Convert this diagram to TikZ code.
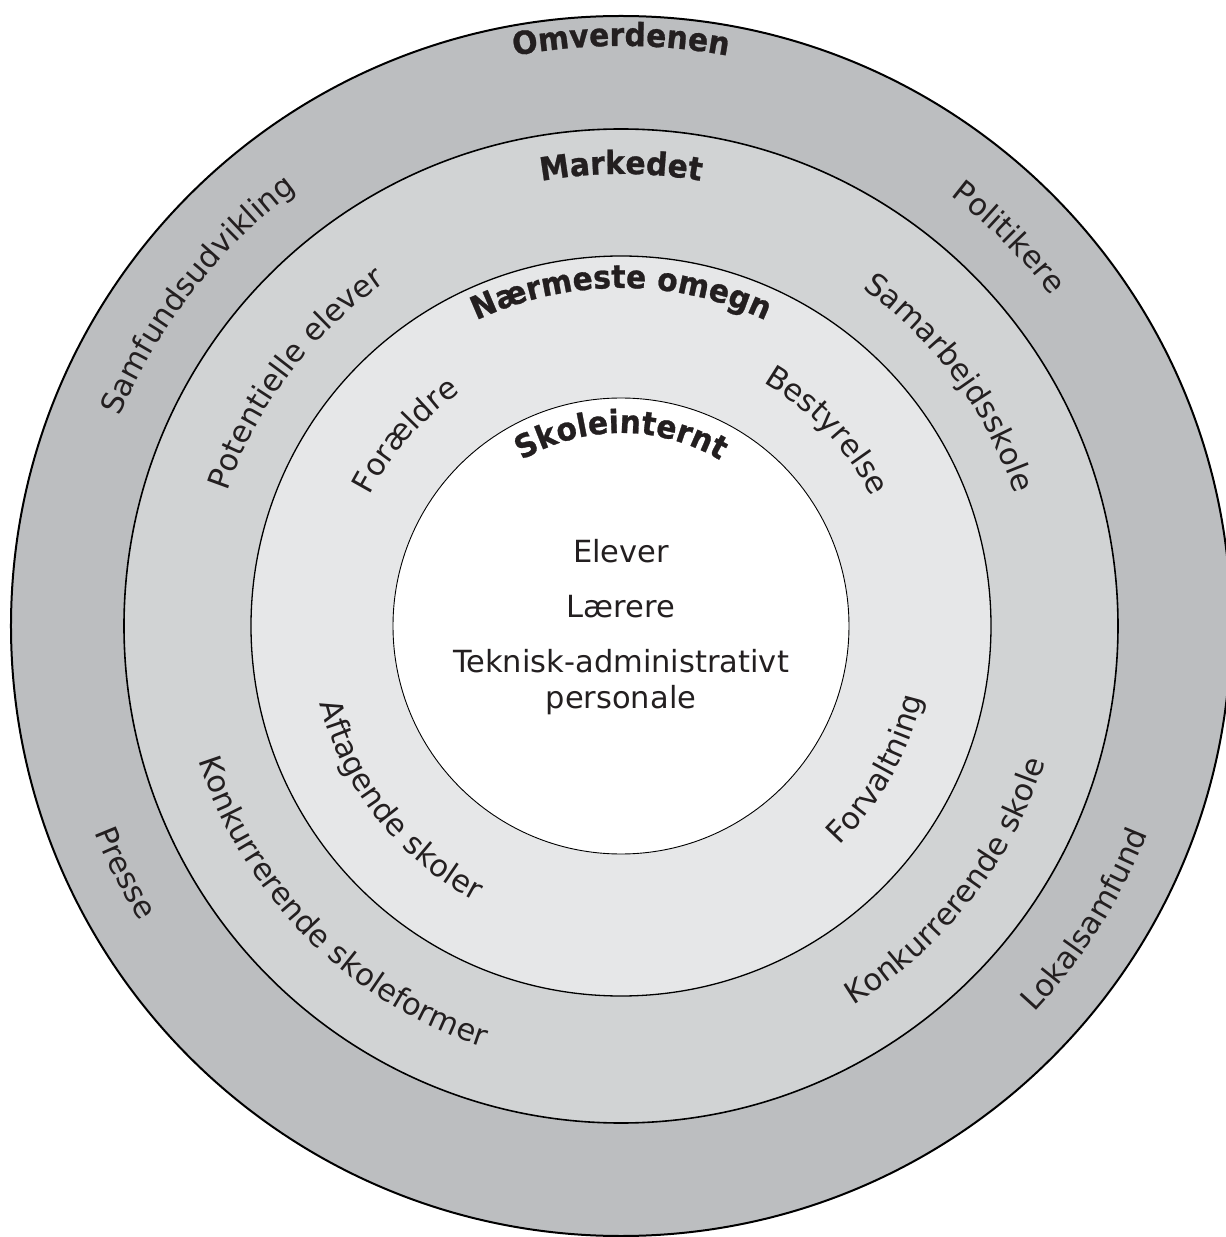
\documentclass[tikz,border=0pt]{standalone}
\usepackage{fontspec}
\setmainfont{DejaVu Sans}
\newfontfamily\headfam{DejaVu Sans}[FakeStretch=0.93,FakeBold=0.8]
\usetikzlibrary{decorations.text}

\definecolor{ringA}{HTML}{BCBEC0}
\definecolor{ringB}{HTML}{D1D3D4}
\definecolor{ringC}{HTML}{E6E7E8}
\definecolor{ink}{HTML}{231F20}

\newcommand\labfont{\fontsize{30.5}{36}\selectfont}
\newcommand\headfont{\headfam\bfseries\fontsize{32}{38}\selectfont}

% text on an arc around the centre: upper half runs clockwise (letters face outward),
% lower half runs counter-clockwise (letters face inward)
% #1 font, #2 text, #3 baseline radius (pt), #4 middle angle
\newcommand\ArcTop[4]{%
  \path[decorate,decoration={text along path,text align=center,text color=ink,text={|#1|#2}}]
    ({#4+60}:#3pt) arc[start angle={#4+60},end angle={#4-60},radius=#3pt];}
\newcommand\ArcBottom[4]{%
  \path[decorate,decoration={text along path,text align=center,text color=ink,text={|#1|#2}}]
    ({#4-60}:#3pt) arc[start angle={#4-60},end angle={#4+60},radius=#3pt];}

\tikzset{
  ring/.style={draw=black},
  ctr/.style={text=ink,font=\labfont,inner sep=0pt,anchor=base}
}

\begin{document}
\begin{tikzpicture}
\useasboundingbox (-621pt,-611pt) rectangle (605pt,626pt);
\begin{scope}
\clip (-621pt,-611pt) rectangle (605pt,626pt);
\fill[white] (-621pt,-611pt) rectangle (605pt,626pt);
% four nested zones
\filldraw[ringA,ring,line width=2pt] (0,0) circle[radius=610pt];
\filldraw[ringB,ring,line width=1.6pt] (0,0) circle[radius=497pt];
\filldraw[ringC,ring,line width=1.3pt] (0,0) circle[radius=370pt];
\filldraw[white,ring,line width=0.9pt] (0,0) circle[radius=228pt];
\end{scope}

% zone headings
\ArcTop{\headfont}{Omverdenen}{580}{90}
\ArcTop{\headfont}{Markedet}{452}{90}
\ArcTop{\headfont}{Nærmeste omegn}{338}{90}
\ArcTop{\headfont}{Skoleinternt}{193}{90}

% outer zone
\ArcTop{\labfont}{Samfundsudvikling}{543}{142}
\ArcTop{\labfont}{Politikere}{542}{45}
\ArcBottom{\labfont}{Presse}{565}{206.5}
\ArcBottom{\labfont}{Lokalsamfund}{566}{327.7}

% market zone
\ArcTop{\labfont}{Potentielle elever}{416}{142.8}
\ArcTop{\labfont}{Samarbejdsskole}{415}{36.5}
\ArcBottom{\labfont}{Konkurrerende skoleformer}{443}{224.75}
\ArcBottom{\labfont}{Konkurrerende skole}{445}{321.9}

% nearest surroundings
\ArcTop{\labfont}{Forældre}{283}{138.5}
\ArcTop{\labfont}{Bestyrelse}{282}{43.5}
\ArcBottom{\labfont}{Aftagende skoler}{311}{218.25}
\ArcBottom{\labfont}{Forvaltning}{310}{330.75}

% inside the school
\node[ctr] (elever) at (0pt,63pt) {Elever};
\node[ctr] (laerere) at (0pt,9pt) {Lærere};
\node[ctr] (teknisk) at (0pt,-46pt) {Teknisk-administrativt};
\node[ctr] (personale) at (0pt,-82pt) {personale};
\end{tikzpicture}
\end{document}
